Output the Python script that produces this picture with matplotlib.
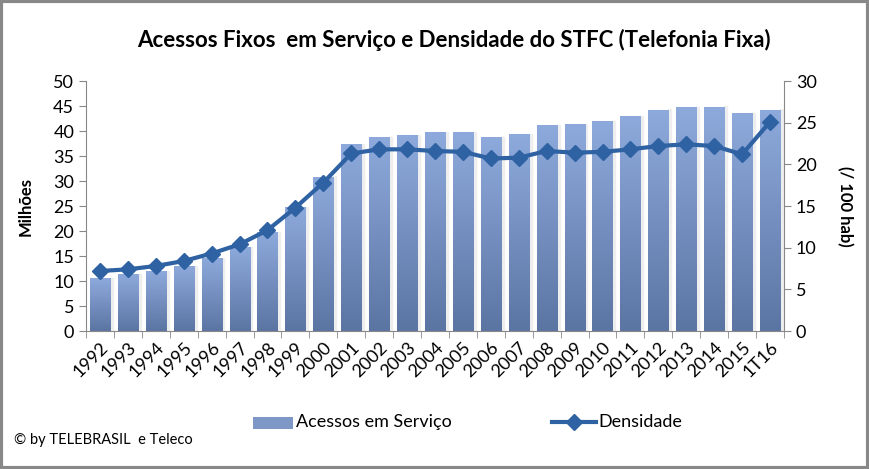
import matplotlib
matplotlib.use('Agg')
import matplotlib.pyplot as plt
import numpy as np
from matplotlib.patches import Rectangle

plt.rcParams['font.family'] = ['Lato', 'DejaVu Sans']

anos = ['1992', '1993', '1994', '1995', '1996', '1997', '1998', '1999', '2000',
        '2001', '2002', '2003', '2004', '2005', '2006', '2007', '2008', '2009',
        '2010', '2011', '2012', '2013', '2014', '2015', '1T16']
acessos = [10.6, 11.4, 12.1, 13.1, 14.7, 16.9, 19.9, 24.9, 30.9,
           37.4, 38.8, 39.2, 39.7, 39.8, 38.8, 39.4, 41.2, 41.4,
           42.0, 43.0, 44.3, 44.7, 44.9, 43.6, 44.3]
densidade = [7.2, 7.4, 7.8, 8.4, 9.3, 10.4, 12.1, 14.8, 17.8,
             21.3, 21.8, 21.8, 21.6, 21.5, 20.7, 20.8, 21.6, 21.4,
             21.5, 21.8, 22.2, 22.4, 22.2, 21.2, 25.1]

fig = plt.figure(figsize=(8.7, 4.69), dpi=100)
ax = fig.add_axes([86/870, 1-331/469, 698/870, 250/469])
x = np.arange(len(anos))

# barras com gradiente vertical
grad = np.linspace(0, 1, 256).reshape(-1, 1)
cmap = matplotlib.colors.LinearSegmentedColormap.from_list('b', ['#5b75a3', '#8eaadc'])
bars = ax.bar(x, acessos, width=0.72, color='none', zorder=2)
for b in bars:
    x0, w, h = b.get_x(), b.get_width(), b.get_height()
    ax.add_patch(Rectangle((x0 + w, 0), 0.1, h, color='#eeeeee', zorder=1))
    im = ax.imshow(grad, extent=[x0, x0 + w, 0, h], origin='lower', cmap=cmap,
                   aspect='auto', zorder=2)
    im.set_clip_path(b)

ax.set_xlim(-0.5, len(anos) - 0.5)
ax.set_ylim(0, 50)
ax.set_yticks(range(0, 51, 5))
ax.set_xticks(x)
ax.set_xticks(np.arange(-0.5, len(anos), 1), minor=True)
ax.set_xticklabels(anos, rotation=45, ha='right', rotation_mode='anchor', fontsize=13)
ax.tick_params(axis='x', which='major', length=0, pad=6)
ax.tick_params(axis='x', which='minor', length=5, color='#888888')
ax.tick_params(axis='y', length=5, color='#888888', labelsize=13)
for s in ['top', 'right']:
    ax.spines[s].set_visible(False)
for s in ['left', 'bottom']:
    ax.spines[s].set_color('#888888')
ax.set_ylabel('Milhões', fontsize=12, fontweight='bold', labelpad=14)

ax2 = ax.twinx()
ax2.plot(x, densidade, color='#2f62a3', lw=3, marker='D', markersize=8, zorder=5)
ax2.set_ylim(0, 30)
ax2.set_yticks(range(0, 31, 5))
ax2.tick_params(axis='y', length=5, color='#888888', labelsize=13)
for s in ['top', 'left', 'bottom']:
    ax2.spines[s].set_visible(False)
ax2.spines['right'].set_color('#888888')
ax2.set_ylabel('(/ 100 hab)', fontsize=12, fontweight='bold', rotation=270, labelpad=26)

fig.text(0.522, 0.915, 'Acessos Fixos  em Serviço e Densidade do STFC (Telefonia Fixa)',
         ha='center', va='center', fontsize=16, fontweight='bold')

# legenda
fig.patches.append(Rectangle((253/870, 1-429/469), 40/870, 12/469, transform=fig.transFigure,
                             facecolor='#7d97c6', edgecolor='none'))
fig.text(296/870, 1-422/469, 'Acessos em Serviço', fontsize=13, va='center')
fig.lines.append(plt.Line2D([552/870, 596/870], [1-422/469, 1-422/469], transform=fig.transFigure,
                            color='#2f62a3', lw=3))
fig.lines.append(plt.Line2D([574/870], [1-422/469], transform=fig.transFigure,
                            color='#2f62a3', marker='D', markersize=8))
fig.text(598/870, 1-422/469, 'Densidade', fontsize=13, va='center')
fig.text(14/870, 1-440/469, '© by TELEBRASIL  e Teleco', fontsize=10.5, va='center')

fig.patches.append(Rectangle((0.001, 0.002), 0.997, 0.995, transform=fig.transFigure,
                             facecolor='none', edgecolor='#888888', lw=3))

fig.savefig('out.png', dpi=100)
